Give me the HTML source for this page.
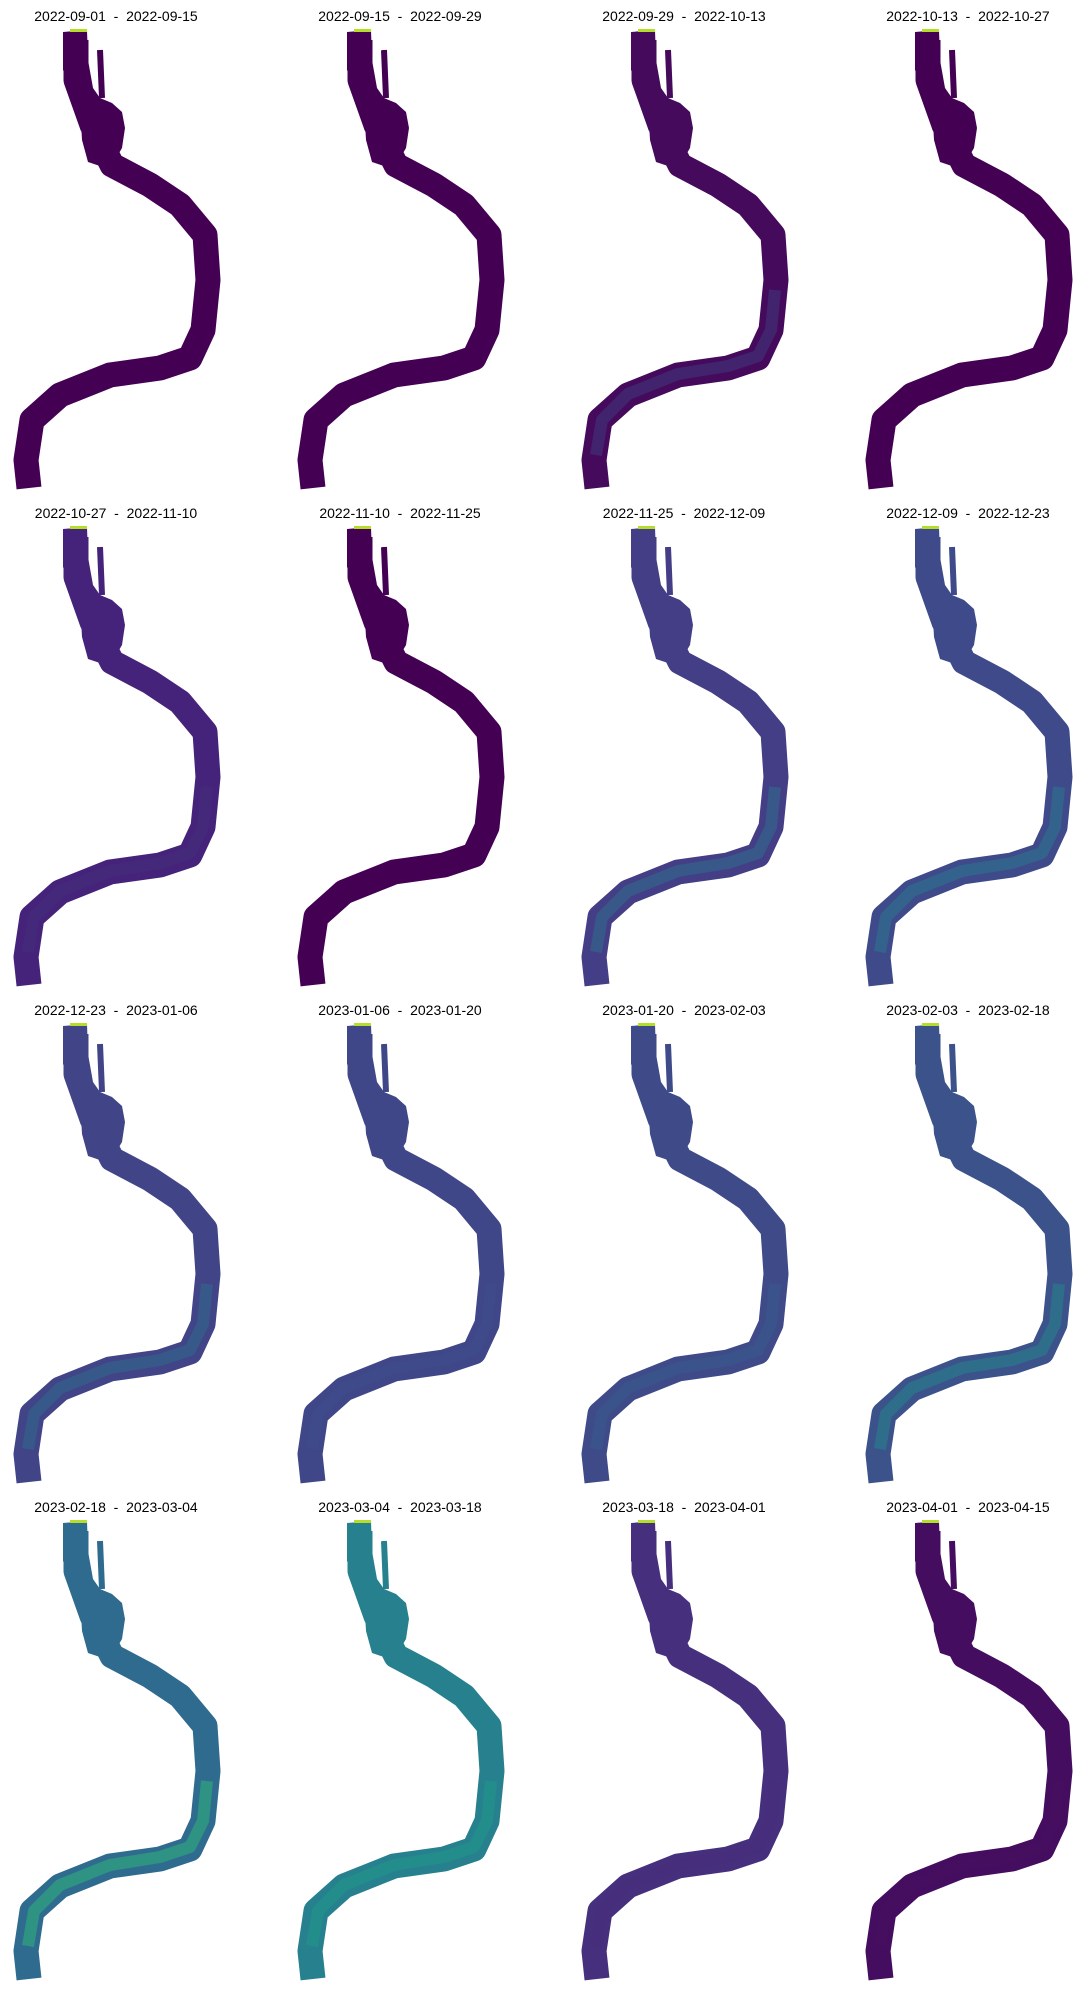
<!DOCTYPE html>
<html><head><meta charset="utf-8"><style>
html,body{margin:0;padding:0;background:#fff;}
svg{display:block}
text{font-family:"Liberation Sans",sans-serif;font-size:14px;fill:#000;white-space:pre}
</style></head><body>
<svg id="fig" width="1083" height="1990" viewBox="0 0 1083 1990"></svg>
<script>
const titles=["2022-09-01  -  2022-09-15","2022-09-15  -  2022-09-29","2022-09-29  -  2022-10-13","2022-10-13  -  2022-10-27",
"2022-10-27  -  2022-11-10","2022-11-10  -  2022-11-25","2022-11-25  -  2022-12-09","2022-12-09  -  2022-12-23",
"2022-12-23  -  2023-01-06","2023-01-06  -  2023-01-20","2023-01-20  -  2023-02-03","2023-02-03  -  2023-02-18",
"2023-02-18  -  2023-03-04","2023-03-04  -  2023-03-18","2023-03-18  -  2023-04-01","2023-04-01  -  2023-04-15"];
const baseColors=["#440154","#440154","#450a5c","#440154","#46237a","#440154","#433e85","#3e4a89",
"#414487","#3f4788","#3f4a89","#3b528b","#2f6b8e","#27808e","#46307e","#450d5f"];
const accentColors=["#440154","#440154","#3e4a89","#440154","#3b3f84","#440154","#2a788e","#2a788e",
"#2c738e","#3b528b","#31688e","#22908c","#2fb47c","#1f9a8a","#482878","#471365"];
const accentOpacity=[0,0,0.4,0,0.2,0,0.45,0.55,0.45,0.25,0.35,0.45,0.55,0.5,0.25,0.15];
const ns="http://www.w3.org/2000/svg";
const svg=document.getElementById('fig');
const river="M76,40 L76,80 L92,125 L112,165 L150,185 L180,205 L205,235 L208,280 L203,330 L190,358 L160,368 L110,375 L60,395 L32,420 L26,460 L29,488";
const lower="M207,290 L203,330 L190,356 L160,366 L110,374 L60,394 L34,420 L28,455";
const upper="M63,32 L87,30 L88,60 L93,88 L100,98 L112,103 L122,112 L125,128 L122,148 L115,160 L100,166 L88,162 L82,140 L80,105 L70,85 L63,70 Z";
for(let i=0;i<titles.length;i++){
  const c=i%4,r=Math.floor(i/4);
  const g=document.createElementNS(ns,'g');
  
  
  g.setAttribute('transform','translate('+(c*284)+','+(r*497)+')');
  const t=document.createElementNS(ns,'text');
  
  
  t.setAttribute('x',116);t.setAttribute('y',21);t.setAttribute('text-anchor','middle');
  t.textContent=titles[i];g.appendChild(t);
  const p=document.createElementNS(ns,'path');
  
  
  p.setAttribute('d',river);p.setAttribute('fill','none');p.setAttribute('stroke',baseColors[i]);
  p.setAttribute('stroke-width',25);p.setAttribute('stroke-linejoin','round');
  g.appendChild(p);
  const u=document.createElementNS(ns,'path');
  
  
  u.setAttribute('d',upper);u.setAttribute('fill',baseColors[i]);
  g.appendChild(u);
  const s=document.createElementNS(ns,'path');
  
  
  s.setAttribute('d','M100,50 L102,98');s.setAttribute('stroke',baseColors[i]);s.setAttribute('stroke-width',6);
  g.appendChild(s);
  const a=document.createElementNS(ns,'path');
  
  
  a.setAttribute('d',lower);a.setAttribute('fill','none');a.setAttribute('stroke',accentColors[i]);
  a.setAttribute('stroke-width',12);a.setAttribute('stroke-linejoin','round');
  a.setAttribute('opacity',accentOpacity[i]);
  g.appendChild(a);
  const tip=document.createElementNS(ns,'rect');
  
  
  tip.setAttribute('x',70);tip.setAttribute('y',29);tip.setAttribute('width',17);tip.setAttribute('height',3);
  tip.setAttribute('fill','#b5de2b');g.appendChild(tip);
  svg.appendChild(g);
}
</script>
</body></html>
